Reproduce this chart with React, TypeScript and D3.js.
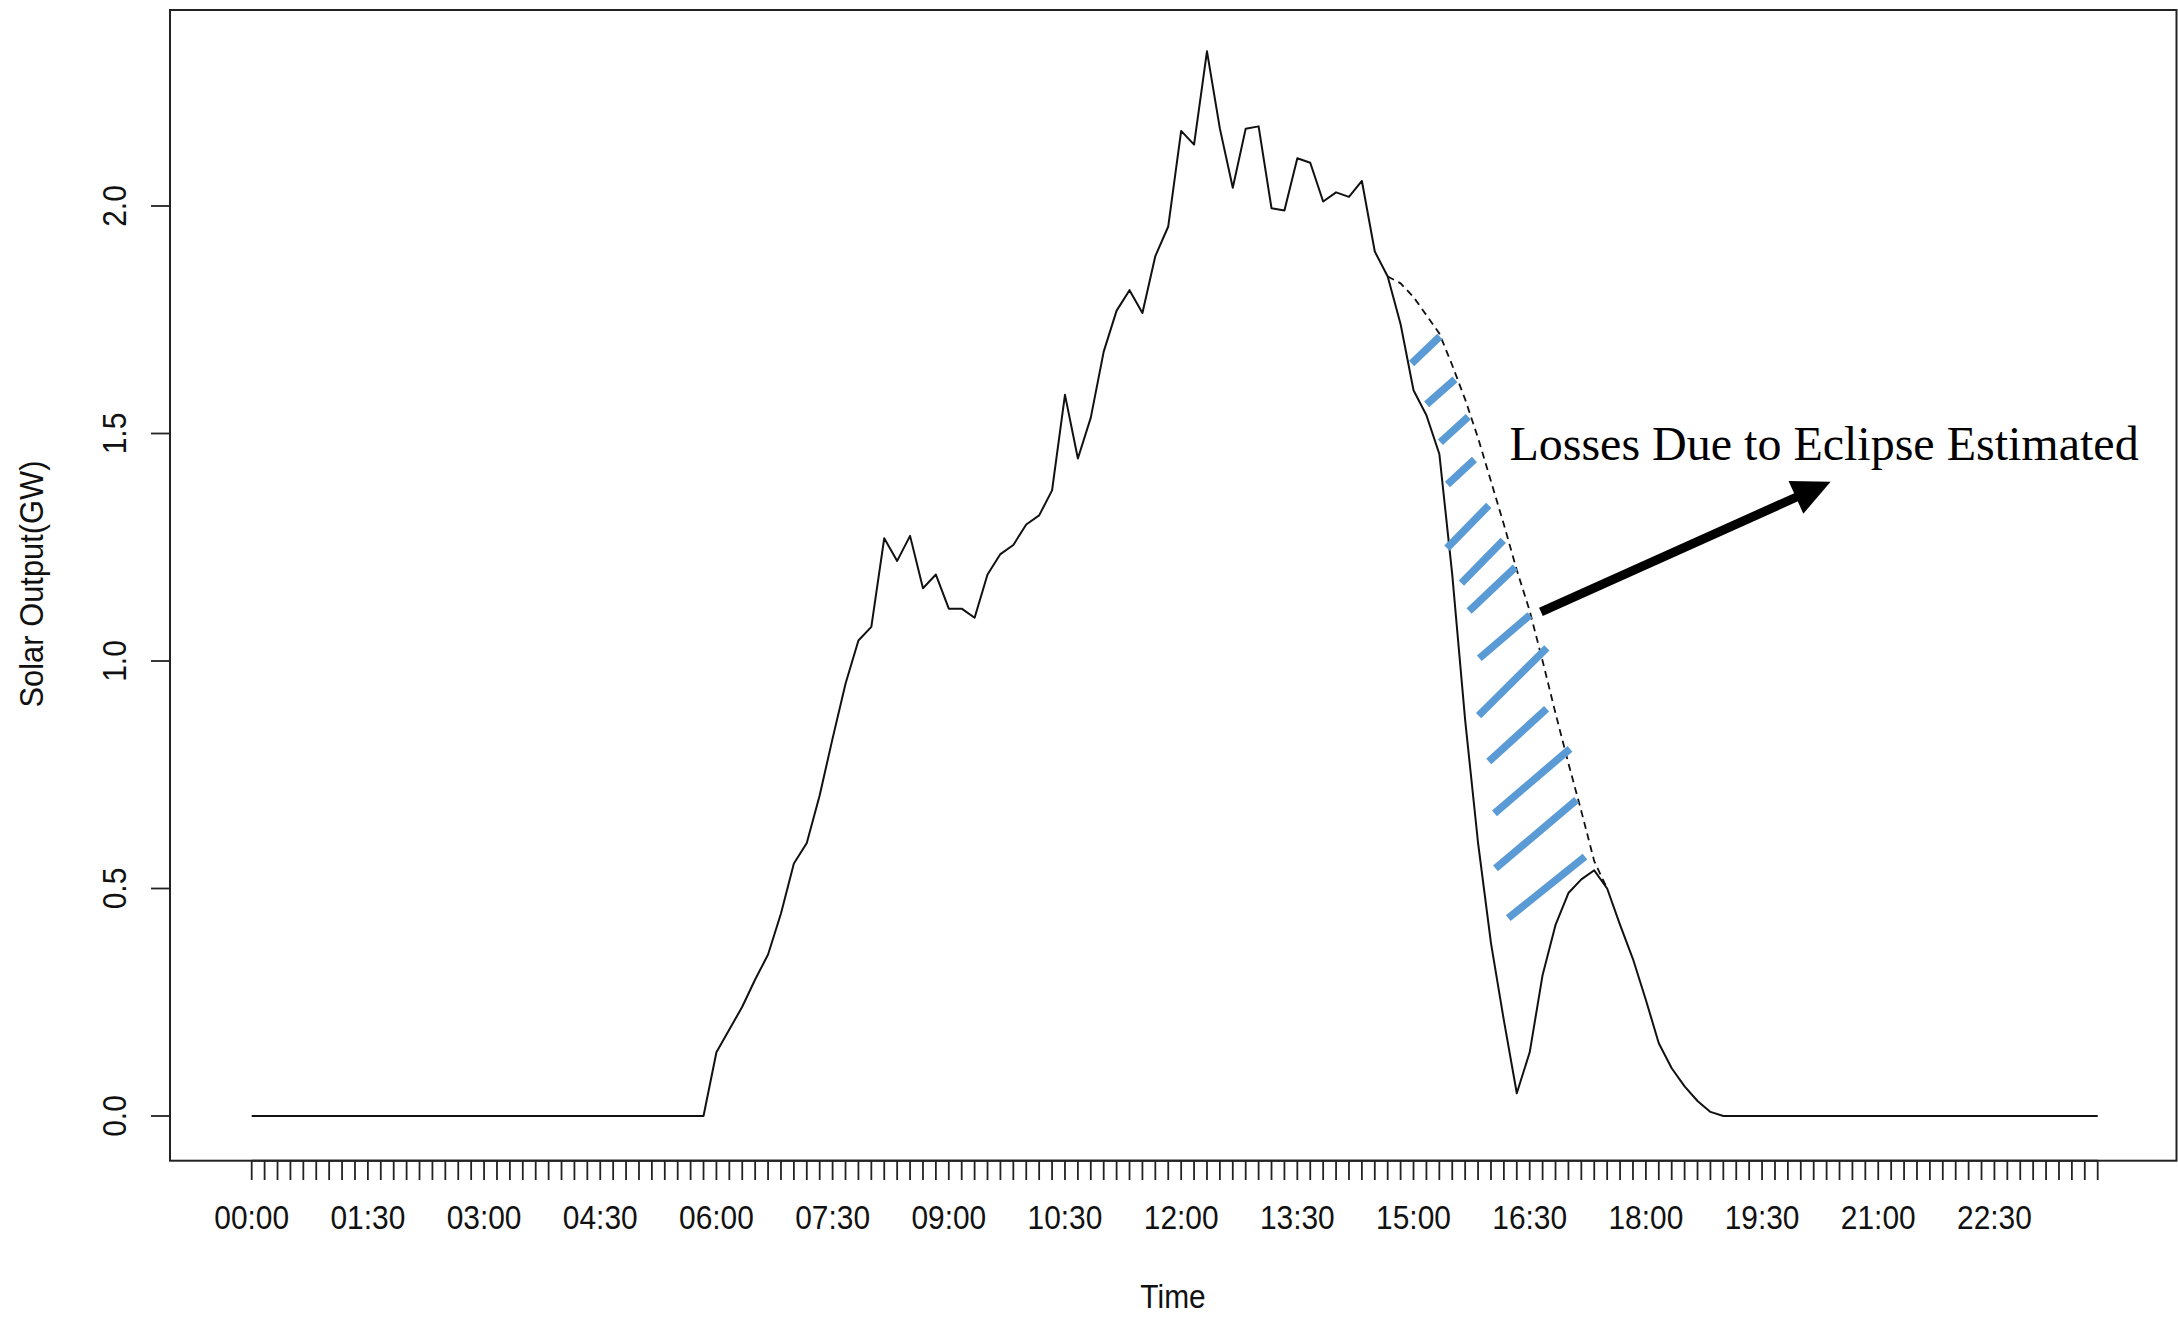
import React from "react";
import * as d3 from "d3";

// ---- data (10-minute resolution, index 0 = 00:00) ----
const solarOutput: number[] = [
  // 00:00 - 05:50
  0, 0, 0, 0, 0, 0, 0, 0, 0, 0, 0, 0, 0, 0, 0, 0, 0, 0,
  0, 0, 0, 0, 0, 0, 0, 0, 0, 0, 0, 0, 0, 0, 0, 0, 0, 0,
  // 06:00 - 08:50
  0.14, 0.19, 0.24, 0.3, 0.355, 0.445, 0.555, 0.6, 0.705, 0.83, 0.95, 1.045,
  1.075, 1.27, 1.22, 1.275, 1.16, 1.19,
  // 09:00 - 11:50
  1.115, 1.115, 1.095, 1.19, 1.235, 1.255, 1.3, 1.32, 1.375, 1.585, 1.445, 1.535,
  1.68, 1.77, 1.815, 1.765, 1.89, 1.955,
  // 12:00 - 14:50
  2.165, 2.135, 2.34, 2.17, 2.04, 2.17, 2.175, 1.995, 1.99, 2.105, 2.095, 2.01,
  2.03, 2.02, 2.055, 1.9, 1.845, 1.74,
  // 15:00 - 17:50
  1.595, 1.54, 1.455, 1.19, 0.87, 0.6, 0.38, 0.21, 0.05, 0.14, 0.31, 0.42,
  0.49, 0.52, 0.54, 0.5, 0.42, 0.345,
  // 18:00 - 20:50
  0.255, 0.16, 0.105, 0.065, 0.033, 0.009, 0, 0, 0, 0, 0, 0,
  0, 0, 0, 0, 0, 0,
  // 21:00 - 23:50
  0, 0, 0, 0, 0, 0, 0, 0, 0, 0, 0, 0, 0, 0, 0, 0, 0, 0,
];

// estimated output without eclipse (dashed), indices 88..105
const estimatedStart = 88;
const estimatedOutput: number[] = [
  1.845, 1.83, 1.8, 1.76, 1.72, 1.65, 1.575, 1.49, 1.395, 1.3, 1.2, 1.11,
  1.0, 0.885, 0.775, 0.67, 0.56, 0.5,
];

const timeLabels: string[] = [
  "00:00", "01:30", "03:00", "04:30", "06:00", "07:30", "09:00", "10:30",
  "12:00", "13:30", "15:00", "16:30", "18:00", "19:30", "21:00", "22:30",
];
const labelStep = 9; // one label every 9 ticks (1.5 h)
const yTicks: number[] = [0, 0.5, 1.0, 1.5, 2.0];

// hatch strokes in data space: [t0, v0, t1, v1]
const hatchT0: number[] = [89.85, 91.01, 92.08, 92.63, 92.59, 93.71, 94.31, 95.1, 95.04, 95.83, 96.27, 96.35, 97.34];
const hatchV0: number[] = [1.654, 1.564, 1.481, 1.388, 1.248, 1.171, 1.11, 1.006, 0.88, 0.779, 0.665, 0.544, 0.435];
const hatchT1: number[] = [92.04, 93.21, 94.24, 94.72, 95.83, 96.95, 97.89, 99.02, 100.33, 100.31, 102.12, 102.63, 103.28];
const hatchV1: number[] = [1.713, 1.619, 1.537, 1.443, 1.342, 1.265, 1.206, 1.101, 1.029, 0.895, 0.807, 0.695, 0.57];

// annotation (data space)
const annotationText = "Losses Due to Eclipse Estimated";
const annotationPos: [number, number] = [97.43, 1.442];
const arrowTail: [number, number] = [99.87, 1.108];
const arrowTip: [number, number] = [122.31, 1.394];

// ---- layout ----
const W = 2178;
const H = 1318;
const frame = { left: 170, top: 10, right: 2176.5, bottom: 1160.7 };

const x = d3.scaleLinear().domain([0, 143]).range([251.7, 2097.7]);
const y = d3.scaleLinear().domain([0, 2]).range([1116, 206]);

const sansFont = "'Liberation Sans', Arial, 'DejaVu Sans', sans-serif";
const serifFont = "'Liberation Serif', 'Times New Roman', serif";

export default function App() {
  const line = d3
    .line<number>()
    .x((_, i) => x(i))
    .y((d) => y(d));
  const solidPath = line(solarOutput) || "";

  const dashedPath =
    d3
      .line<number>()
      .x((_, i) => x(i + estimatedStart))
      .y((d) => y(d))(estimatedOutput) || "";

  const ticks = d3.range(solarOutput.length);

  // arrow geometry
  const tx = x(arrowTail[0]);
  const ty = y(arrowTail[1]);
  const hx = x(arrowTip[0]);
  const hy = y(arrowTip[1]);
  const len = Math.hypot(hx - tx, hy - ty);
  const ux = (hx - tx) / len;
  const uy = (hy - ty) / len;
  const headLen = 38;
  const headHalf = 18;
  const bx = hx - ux * headLen;
  const by = hy - uy * headLen;
  const nx = -uy;
  const ny = ux;
  const headPts = `${hx},${hy} ${bx + nx * headHalf},${by + ny * headHalf} ${bx - nx * headHalf},${by - ny * headHalf}`;

  return (
    <svg
      width={W}
      height={H}
      style={{ position: "absolute", left: 0, top: 0, background: "#fff" }}
    >
      <rect x={0} y={0} width={W} height={H} fill="#fff" />
      {/* frame */}
      <rect
        x={frame.left}
        y={frame.top}
        width={frame.right - frame.left}
        height={frame.bottom - frame.top}
        fill="none"
        stroke="#222"
        strokeWidth={2}
      />

      {/* x axis ticks */}
      <line x1={x(0)} x2={x(143)} y1={frame.bottom} y2={frame.bottom} stroke="#222" strokeWidth={2} />
      {ticks.map((i) => (
        <line key={"xt" + i} x1={x(i)} x2={x(i)} y1={frame.bottom} y2={1180} stroke="#222" strokeWidth={1.8} />
      ))}
      {timeLabels.map((lab, k) => (
        <text
          key={"xl" + k}
          transform={`translate(${x(k * labelStep)},1229) scale(0.92,1)`}
          textAnchor="middle"
          fontFamily={sansFont}
          fontSize={32.5}
          fill="#111"
        >
          {lab}
        </text>
      ))}

      {/* y axis ticks */}
      {yTicks.map((v) => (
        <g key={"yt" + v}>
          <line x1={151} x2={frame.left} y1={y(v)} y2={y(v)} stroke="#222" strokeWidth={1.8} />
          <text
            transform={`translate(126,${y(v)}) rotate(-90) scale(0.88,1)`}
            textAnchor="middle"
            fontFamily={sansFont}
            fontSize={34}
            fill="#111"
          >
            {v.toFixed(1)}
          </text>
        </g>
      ))}

      {/* axis titles */}
      <text
        transform={`translate(1173,1308) scale(0.92,1)`}
        textAnchor="middle"
        fontFamily={sansFont}
        fontSize={32.5}
        fill="#111"
      >
        Time
      </text>
      <text
        transform={`translate(43,584) rotate(-90) scale(0.95,1)`}
        textAnchor="middle"
        fontFamily={sansFont}
        fontSize={32.5}
        fill="#111"
      >
        Solar Output(GW)
      </text>

      {/* data */}
      <path d={solidPath} fill="none" stroke="#111" strokeWidth={2} strokeLinejoin="round" />
      <path d={dashedPath} fill="none" stroke="#111" strokeWidth={1.8} strokeDasharray="7,5" />

      {/* hatch */}
      {hatchT0.map((t, k) => (
        <line
          key={"h" + k}
          x1={x(t)}
          y1={y(hatchV0[k])}
          x2={x(hatchT1[k])}
          y2={y(hatchV1[k])}
          stroke="#5B9BD5"
          strokeWidth={7.5}
        />
      ))}

      {/* annotation */}
      <line x1={tx} y1={ty} x2={bx + ux * 2} y2={by + uy * 2} stroke="#000" strokeWidth={9} />
      <polygon points={headPts} fill="#000" />
      <text
        x={x(annotationPos[0])}
        y={y(annotationPos[1])}
        fontFamily={serifFont}
        fontSize={48}
        fill="#000"
      >
        {annotationText}
      </text>
    </svg>
  );
}
